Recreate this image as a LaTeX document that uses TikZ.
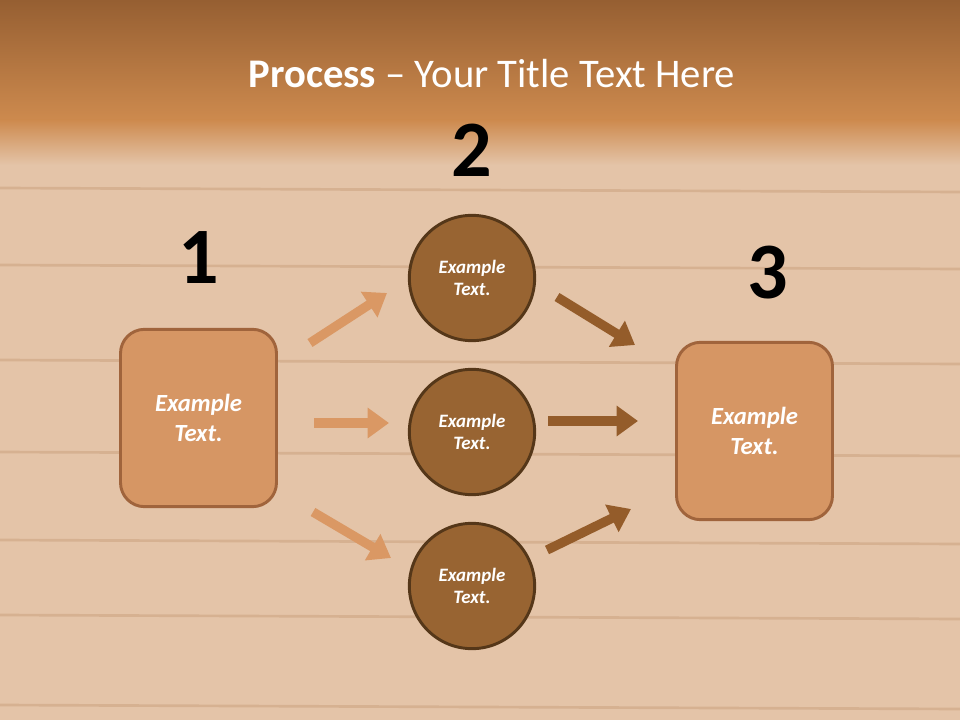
\documentclass[tikz,border=0pt]{standalone}
\usepackage{fontspec}
\setmainfont{Carlito}
\usetikzlibrary{arrows.meta}
\definecolor{wood}{RGB}{228,196,168}
\definecolor{grain}{RGB}{205,165,130}
\definecolor{topb}{RGB}{150,95,50}
\definecolor{midb}{RGB}{205,138,78}
\definecolor{boxf}{RGB}{214,150,100}
\definecolor{boxd}{RGB}{160,100,60}
\definecolor{circf}{RGB}{152,100,50}
\definecolor{circd}{RGB}{85,55,25}
\definecolor{arrl}{RGB}{218,152,100}
\definecolor{arrd}{RGB}{148,92,42}
\tikzset{
  box/.style={draw=boxd,line width=2.2pt,fill=boxf,rounded corners=18pt,minimum width=117pt,minimum height=133pt,text=white,font=\bfseries\itshape\fontsize{18.5}{22}\selectfont,align=center},
  circ/.style={circle,draw=circd,line width=2.2pt,fill=circf,minimum size=94pt,inner sep=0pt,text=white,font=\bfseries\itshape\fontsize{14.2}{17}\selectfont,align=center},
  num/.style={font=\bfseries\fontsize{60}{66}\selectfont,text=black},
  arr/.style={line width=7pt,-{Triangle[length=16pt,width=22pt]}},
}
\begin{document}
\begin{tikzpicture}[x=0.75pt,y=-0.75pt]
\useasboundingbox (0,0) rectangle (960,720);
\fill[wood] (0,0) rectangle (960,720);
\fill[top color=topb,bottom color=midb] (0,0) rectangle (960,120);
\fill[top color=midb,bottom color=wood] (0,120) rectangle (960,165);
\foreach \y in {188,265,360,452,540,615,705}
  \draw[grain,line width=2pt,opacity=0.6] (0,\y) -- (960,\y+4);
\node[text=white,font=\fontsize{30.5}{36}\selectfont] (title) at (492,74) {\textbf{Process} – Your Title Text Here};
\node[box] (b1) at (198.5,418) {Example\\Text.};
\node[box] (b3) at (754.5,431) {Example\\Text.};
\node[circ] (c1) at (472,278) {Example\\Text.};
\node[circ] (c2) at (472,432) {Example\\Text.};
\node[circ] (c3) at (472,586) {Example\\Text.};
\node[num] (n1) at (199,258) {1};
\node[num] (n2) at (472,150) {2};
\node[num] (n3) at (768,273) {3};
\coordinate (a1s) at (310,343); \coordinate (a1e) at (387,293);
\coordinate (a2s) at (314,423); \coordinate (a2e) at (389,423);
\coordinate (a3s) at (313,512); \coordinate (a3e) at (391,558);
\coordinate (d1s) at (557,297); \coordinate (d1e) at (635,345);
\coordinate (d2s) at (548,421); \coordinate (d2e) at (638,421);
\coordinate (d3s) at (547,550); \coordinate (d3e) at (631,509);
\draw[arr,arrl] (a1s) -- (a1e);
\draw[arr,arrl] (a2s) -- (a2e);
\draw[arr,arrl] (a3s) -- (a3e);
\draw[arr,arrd] (d1s) -- (d1e);
\draw[arr,arrd] (d2s) -- (d2e);
\draw[arr,arrd] (d3s) -- (d3e);
\end{tikzpicture}
\end{document}
